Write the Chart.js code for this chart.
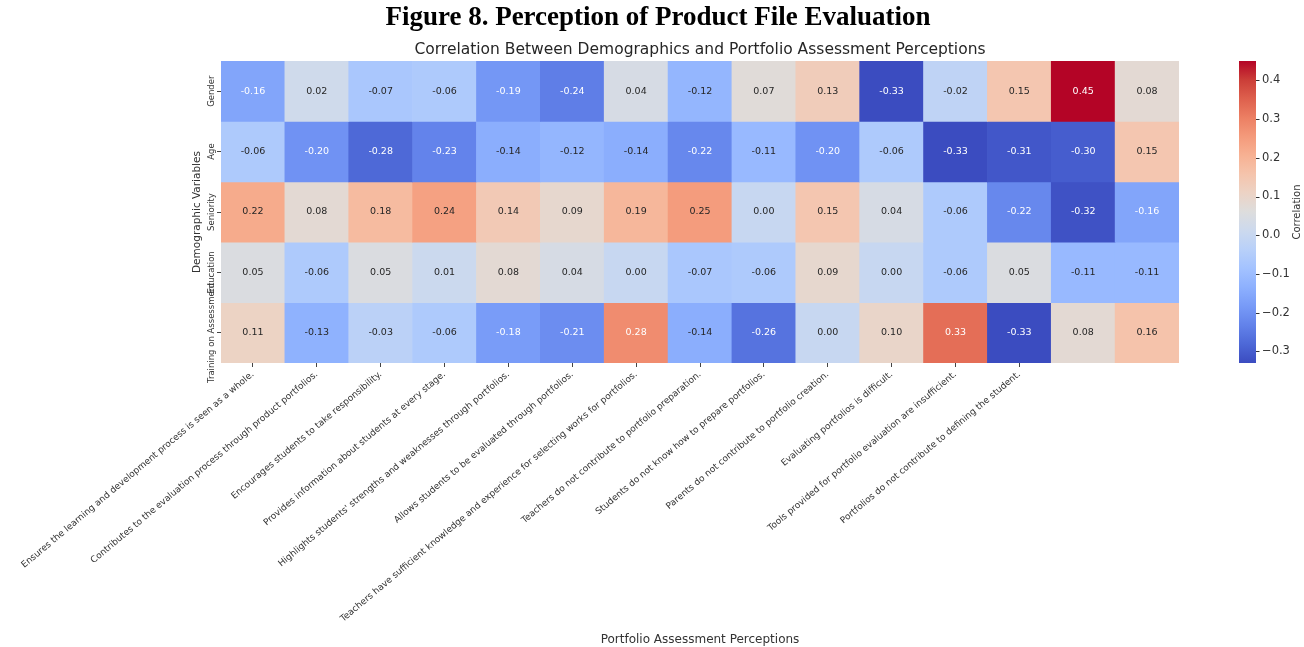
<!DOCTYPE html>
<html>
<head>
<meta charset="utf-8">
<script src="https://cdn.jsdelivr.net/npm/chart.js@4.4.1/dist/chart.umd.min.js"></script>
<style>
  html, body { margin: 0; padding: 0; background: #fff; }
  #wrap { width: 1304px; height: 647px; }
</style>
</head>
<body>
<div id="wrap"><canvas id="heatmap" width="1304" height="647"></canvas></div>
<script>
// rows of the matrix
const demographics = ["Gender", "Age", "Seniority", "Education", "Training on Assessment"];

// column statements (the last two columns carry no label)
const perceptions = [
  "Ensures the learning and development process is seen as a whole.",
  "Contributes to the evaluation process through product portfolios.",
  "Encourages students to take responsibility.",
  "Provides information about students at every stage.",
  "Highlights students' strengths and weaknesses through portfolios.",
  "Allows students to be evaluated through portfolios.",
  "Teachers have sufficient knowledge and experience for selecting works for portfolios.",
  "Teachers do not contribute to portfolio preparation.",
  "Students do not know how to prepare portfolios.",
  "Parents do not contribute to portfolio creation.",
  "Evaluating portfolios is difficult.",
  "Tools provided for portfolio evaluation are insufficient.",
  "Portfolios do not contribute to defining the student.",
];
const columnLabels = perceptions.concat(["", ""]);

// correlation values, one array per demographic row
const gender    = [-0.16, 0.02, -0.07, -0.06, -0.19, -0.24, 0.04, -0.12, 0.07, 0.13, -0.33, -0.02, 0.15, 0.45, 0.08];
const age       = [-0.06, -0.20, -0.28, -0.23, -0.14, -0.12, -0.14, -0.22, -0.11, -0.20, -0.06, -0.33, -0.31, -0.30, 0.15];
const seniority = [0.22, 0.08, 0.18, 0.24, 0.14, 0.09, 0.19, 0.25, 0.00, 0.15, 0.04, -0.06, -0.22, -0.32, -0.16];
const education = [0.05, -0.06, 0.05, 0.01, 0.08, 0.04, 0.00, -0.07, -0.06, 0.09, 0.00, -0.06, 0.05, -0.11, -0.11];
const training  = [0.11, -0.13, -0.03, -0.06, -0.18, -0.21, 0.28, -0.14, -0.26, 0.00, 0.10, 0.33, -0.33, 0.08, 0.16];
const correlations = [gender, age, seniority, education, training];

const colorbarTicks = [-0.3, -0.2, -0.1, 0.0, 0.1, 0.2, 0.3, 0.4];

const allValues = correlations.flat();
const vmin = Math.min(...allValues);
const vmax = Math.max(...allValues);

// coolwarm colormap samples
const coolwarmStops = [
  [59, 76, 192], [77, 104, 215], [98, 130, 234], [119, 154, 247],
  [141, 176, 254], [163, 194, 255], [184, 208, 249], [204, 217, 238],
  [221, 221, 221], [236, 211, 197], [245, 196, 172], [247, 177, 147],
  [244, 154, 123], [236, 127, 99], [222, 96, 77], [203, 62, 56], [180, 4, 38],
];

function coolwarmRgb(t) {
  t = Math.max(0, Math.min(1, t));
  const pos = t * (coolwarmStops.length - 1);
  const i = Math.min(Math.floor(pos), coolwarmStops.length - 2);
  const f = pos - i;
  const a = coolwarmStops[i], b = coolwarmStops[i + 1];
  return a.map((c, k) => Math.round(c + (b[k] - c) * f));
}

function rgbString(rgb) {
  return "rgb(" + rgb.join(",") + ")";
}

function norm(v) {
  return (v - vmin) / (vmax - vmin);
}

// same rule seaborn uses to pick annotation colour
function textColorFor(rgb) {
  const lin = rgb.map(c => {
    c = c / 255;
    return c <= 0.03928 ? c / 12.92 : Math.pow((c + 0.055) / 1.055, 2.4);
  });
  const lum = 0.2126 * lin[0] + 0.7152 * lin[1] + 0.0722 * lin[2];
  return lum > 0.408 ? "#262626" : "#ffffff";
}

const tickColor = "#333333";

// cell annotations, row labels and the colour bar
const heatmapExtras = {
  id: "heatmapExtras",
  afterDatasetsDraw(chart) {
    const ctx = chart.ctx;
    ctx.save();
    ctx.font = "9.5px 'DejaVu Sans'";
    ctx.textAlign = "center";
    ctx.textBaseline = "middle";
    chart.data.datasets.forEach((ds, r) => {
      const meta = chart.getDatasetMeta(r);
      meta.data.forEach((bar, c) => {
        const v = correlations[r][c];
        ctx.fillStyle = textColorFor(coolwarmRgb(norm(v)));
        ctx.fillText(v.toFixed(2), bar.x, (bar.y + bar.base) / 2);
      });
    });
    ctx.restore();
  },
  afterDraw(chart) {
    const ctx = chart.ctx;
    const yScale = chart.scales.y;
    const cb = chart.scales.cb;
    const area = chart.chartArea;

    // row labels, vertical
    ctx.save();
    ctx.font = "8.5px 'DejaVu Sans'";
    ctx.fillStyle = tickColor;
    ctx.textAlign = "center";
    ctx.textBaseline = "middle";
    demographics.forEach((name, i) => {
      ctx.save();
      ctx.translate(area.left - 9, yScale.getPixelForValue(i + 0.5));
      ctx.rotate(-Math.PI / 2);
      ctx.fillText(name, 0, 0);
      ctx.restore();
    });
    ctx.restore();

    // colour bar
    const x0 = cb.left + 60;
    const barW = 17;
    const yTop = cb.getPixelForValue(vmax);
    const yBot = cb.getPixelForValue(vmin);
    const grad = ctx.createLinearGradient(0, yBot, 0, yTop);
    coolwarmStops.forEach((rgb, i) => {
      grad.addColorStop(i / (coolwarmStops.length - 1), rgbString(rgb));
    });
    ctx.save();
    ctx.fillStyle = grad;
    ctx.fillRect(x0, yTop, barW, yBot - yTop);
    ctx.strokeStyle = tickColor;
    ctx.lineWidth = 1;
    colorbarTicks.forEach(v => {
      const y = Math.round(cb.getPixelForValue(v)) + 0.5;
      ctx.beginPath();
      ctx.moveTo(x0 + barW, y);
      ctx.lineTo(x0 + barW + 3.5, y);
      ctx.stroke();
    });
    ctx.font = "10px 'DejaVu Sans'";
    ctx.fillStyle = tickColor;
    ctx.textAlign = "center";
    ctx.textBaseline = "middle";
    ctx.translate(1297, (area.top + area.bottom) / 2);
    ctx.rotate(-Math.PI / 2);
    ctx.fillText("Correlation", 0, 0);
    ctx.restore();
  },
};

Chart.defaults.font.family = "'DejaVu Sans'";
Chart.defaults.color = tickColor;

new Chart(document.getElementById("heatmap"), {
  type: "bar",
  data: {
    labels: columnLabels,
    datasets: correlations.map((row, r) => ({
      label: demographics[r],
      data: row.map(() => 1),
      backgroundColor: row.map(v => rgbString(coolwarmRgb(norm(v)))),
      borderWidth: 0,
      barPercentage: 1,
      categoryPercentage: 1,
    })),
  },
  options: {
    responsive: false,
    animation: false,
    layout: {
      padding: { left: 12, right: 0, top: 0, bottom: 0 },
    },
    plugins: {
      legend: { display: false },
      tooltip: { enabled: false },
      title: {
        display: true,
        text: "Figure 8. Perception of Product File Evaluation",
        color: "#000",
        font: { family: "'Liberation Serif'", size: 27, weight: "bold" },
        padding: { top: 2, bottom: 0 },
      },
      subtitle: {
        display: true,
        fullSize: false,
        text: "Correlation Between Demographics and Portfolio Assessment Perceptions",
        color: "#262626",
        font: { size: 15.5 },
        padding: { top: 6, bottom: 2 },
      },
    },
    scales: {
      x: {
        stacked: true,
        offset: true,
        border: { display: false },
        grid: {
          drawOnChartArea: false,
          offset: false,
          tickLength: 4,
          color: (c) => (c.index < perceptions.length ? "#444" : "rgba(0,0,0,0)"),
        },
        ticks: {
          autoSkip: false,
          minRotation: 40,
          maxRotation: 40,
          padding: 2,
          font: { size: 9 },
        },
        title: {
          display: true,
          text: "Portfolio Assessment Perceptions",
          font: { size: 12 },
          padding: { top: 0, bottom: 0 },
        },
        afterFit(scale) {
          scale.height = 284;
          scale.paddingLeft = 0;
          scale.paddingRight = 0;
        },
      },
      y: {
        stacked: true,
        reverse: true,
        min: 0,
        max: demographics.length,
        border: { display: false },
        grid: { drawOnChartArea: false, tickLength: 4, color: "#444" },
        ticks: { display: false },
        afterBuildTicks(scale) {
          scale.ticks = demographics.map((_, i) => ({ value: i + 0.5 }));
        },
        title: {
          display: true,
          text: "Demographic Variables",
          font: { size: 10.5 },
          padding: { top: 179, bottom: 0 },
        },
        afterFit(scale) {
          scale.width = 209;
          scale.paddingTop = 0;
          scale.paddingBottom = 0;
        },
      },
      cb: {
        type: "linear",
        position: "right",
        min: vmin,
        max: vmax,
        border: { display: false },
        grid: { display: false, drawTicks: false },
        afterBuildTicks(scale) {
          scale.ticks = colorbarTicks.map(v => ({ value: v }));
        },
        ticks: {
          padding: 83,
          font: { size: 11.5 },
          callback: (v) => (v < 0 ? "\u2212" : "") + Math.abs(v).toFixed(1),
        },
        afterFit(scale) {
          scale.width = 125;
          scale.paddingTop = 0;
          scale.paddingBottom = 0;
        },
      },
    },
  },
  plugins: [heatmapExtras],
});
</script>
</body>
</html>
